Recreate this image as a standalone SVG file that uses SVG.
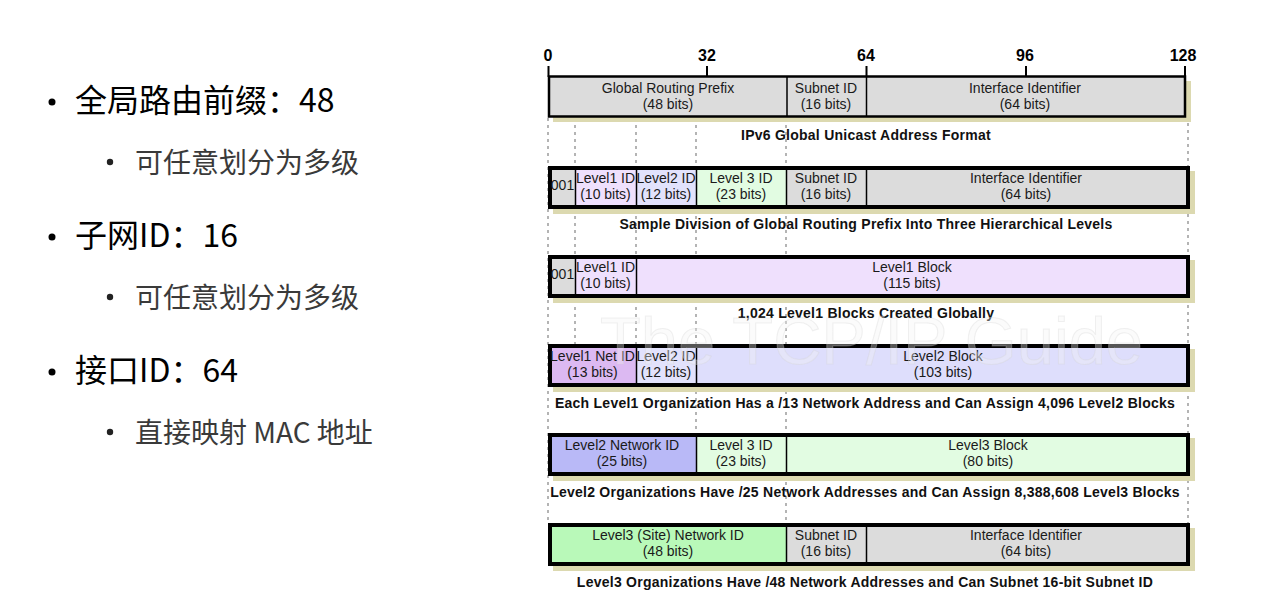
<svg xmlns="http://www.w3.org/2000/svg" width="1283" height="603" viewBox="0 0 1283 603">
<style>
.bg{fill:#ffffff}
.main{font-family:"Noto Sans CJK SC","Noto Sans",sans-serif;font-size:32px;fill:#000}
.sub{font-family:"Noto Sans CJK SC","Noto Sans",sans-serif;font-size:28px;fill:#3a3a3a}
.dot{fill:#000}
.sdot{fill:#222}
.tick{font-family:"Liberation Sans",Arial,sans-serif;font-size:16px;font-weight:bold;fill:#000;text-anchor:middle}
.t{font-family:"Liberation Sans",Arial,sans-serif;font-size:14px;fill:#1a1a1a;text-anchor:middle}
.cap{font-family:"Liberation Sans",Arial,sans-serif;font-size:14px;font-weight:bold;fill:#111;text-anchor:middle;letter-spacing:0.25px}
.shadow{fill:#dcd9b0}
.frame{fill:none;stroke:#000;stroke-width:4}
.frame1{fill:none;stroke:#000;stroke-width:2.5}
.div{stroke:#000;stroke-width:1.5}
.guide{stroke:#b4b4b4;stroke-width:2;stroke-dasharray:3 4;fill:none}
.gray{fill:#dcdcdc}
.l1{fill:#efe0fd}
.l2{fill:#e2e2fc}
.l3{fill:#e2fce2}
.l1n{fill:#dcb9f2}
.l2n{fill:#b9b9f7}
.l3n{fill:#b9f9b9}
.wm{font-family:"Liberation Sans",Arial,sans-serif;font-size:66px;fill:#f4f4f4;fill-opacity:0.35;stroke:#cfcfcf;stroke-opacity:0.3;stroke-width:1}
</style>
<rect class="bg" x="0" y="0" width="1283" height="603"/>

<g id="bullets">
  <circle class="dot" cx="52" cy="102" r="3.5"/>
  <text class="main" x="75" y="112">全局路由前缀：48</text>
  <circle class="sdot" cx="110" cy="162" r="3.2"/>
  <text class="sub" x="135" y="173">可任意划分为多级</text>
  <circle class="dot" cx="52" cy="237" r="3.5"/>
  <text class="main" x="75" y="247">子网ID：16</text>
  <circle class="sdot" cx="110" cy="297" r="3.2"/>
  <text class="sub" x="135" y="308">可任意划分为多级</text>
  <circle class="dot" cx="52" cy="372" r="3.5"/>
  <text class="main" x="75" y="382">接口ID：64</text>
  <circle class="sdot" cx="110" cy="432" r="3.2"/>
  <text class="sub" x="135" y="443">直接映射 MAC 地址</text>
</g>

<g id="connectors">
  <line class="guide" x1="548" y1="118" x2="548" y2="523"/>
  <line class="guide" x1="575" y1="118" x2="575" y2="345"/>
  <line class="guide" x1="636" y1="118" x2="636" y2="345"/>
  <line class="guide" x1="696" y1="118" x2="696" y2="434"/>
  <line class="guide" x1="786" y1="118" x2="786" y2="523"/>
  <line class="guide" x1="1188" y1="123" x2="1188" y2="523"/>
</g>

<g id="axis">
  <text class="tick" x="548" y="61">0</text>
  <text class="tick" x="707" y="61">32</text>
  <text class="tick" x="866" y="61">64</text>
  <text class="tick" x="1025" y="61">96</text>
  <text class="tick" x="1183" y="61">128</text>
  <line class="div" x1="548.5" y1="66" x2="548.5" y2="77" style="stroke-width:2"/>
  <line class="div" x1="707" y1="66" x2="707" y2="77" style="stroke-width:2"/>
  <line class="div" x1="866.5" y1="66" x2="866.5" y2="77" style="stroke-width:2"/>
  <line class="div" x1="1026" y1="66" x2="1026" y2="77" style="stroke-width:2"/>
  <line class="div" x1="1185" y1="66" x2="1185" y2="77" style="stroke-width:2"/>
</g>

<g id="row1">
  <rect class="shadow" x="553" y="81" width="638" height="41"/>
  <rect class="gray" x="549" y="77" width="636" height="39"/>
  <line class="div" x1="787" y1="77" x2="787" y2="116"/>
  <line class="div" x1="866.5" y1="77" x2="866.5" y2="116"/>
  <rect class="frame1" x="549" y="76.5" width="636" height="40"/>
  <text class="t" x="668" y="93">Global Routing Prefix</text>
  <text class="t" x="668" y="109">(48 bits)</text>
  <text class="t" x="826" y="93">Subnet ID</text>
  <text class="t" x="826" y="109">(16 bits)</text>
  <text class="t" x="1025" y="93">Interface Identifier</text>
  <text class="t" x="1025" y="109">(64 bits)</text>
  <text class="cap" x="866" y="140">IPv6 Global Unicast Address Format</text>
</g>

<g id="row2">
  <rect class="shadow" x="553" y="171" width="642" height="43"/>
  <rect class="gray" x="550" y="168" width="25" height="39"/>
  <rect class="l1" x="575" y="168" width="61" height="39"/>
  <rect class="l2" x="636" y="168" width="60" height="39"/>
  <rect class="l3" x="696" y="168" width="90" height="39"/>
  <rect class="gray" x="786" y="168" width="402" height="39"/>
  <line class="div" x1="575.5" y1="168" x2="575.5" y2="207"/>
  <line class="div" x1="636.5" y1="168" x2="636.5" y2="207"/>
  <line class="div" x1="696.5" y1="168" x2="696.5" y2="207"/>
  <line class="div" x1="786.5" y1="168" x2="786.5" y2="207"/>
  <line class="div" x1="866.5" y1="168" x2="866.5" y2="207"/>
  <rect class="frame" x="550" y="168" width="638" height="39"/>
  <text class="t" x="562.5" y="190">001</text>
  <text class="t" x="605.5" y="183">Level1 ID</text>
  <text class="t" x="605.5" y="199">(10 bits)</text>
  <text class="t" x="666" y="183">Level2 ID</text>
  <text class="t" x="666" y="199">(12 bits)</text>
  <text class="t" x="741" y="183">Level 3 ID</text>
  <text class="t" x="741" y="199">(23 bits)</text>
  <text class="t" x="826" y="183">Subnet ID</text>
  <text class="t" x="826" y="199">(16 bits)</text>
  <text class="t" x="1026" y="183">Interface Identifier</text>
  <text class="t" x="1026" y="199">(64 bits)</text>
  <text class="cap" x="866" y="229">Sample Division of Global Routing Prefix Into Three Hierarchical Levels</text>
</g>

<g id="row3">
  <rect class="shadow" x="553" y="260" width="642" height="43"/>
  <rect class="gray" x="550" y="257" width="25" height="39"/>
  <rect class="l1" x="575" y="257" width="613" height="39"/>
  <line class="div" x1="575.5" y1="257" x2="575.5" y2="296"/>
  <line class="div" x1="636.5" y1="257" x2="636.5" y2="296"/>
  <rect class="frame" x="550" y="257" width="638" height="39"/>
  <text class="t" x="562.5" y="279">001</text>
  <text class="t" x="605.5" y="272">Level1 ID</text>
  <text class="t" x="605.5" y="288">(10 bits)</text>
  <text class="t" x="912" y="272">Level1 Block</text>
  <text class="t" x="912" y="288">(115 bits)</text>
  <text class="cap" x="866" y="318">1,024 Level1 Blocks Created Globally</text>
</g>

<g id="row4">
  <rect class="shadow" x="553" y="349" width="642" height="43"/>
  <rect class="l1n" x="550" y="346" width="86" height="39"/>
  <rect class="l2" x="636" y="346" width="60" height="39"/>
  <rect class="l2" x="696" y="346" width="492" height="39" style="fill:#dedefc"/>
  <line class="div" x1="636.5" y1="346" x2="636.5" y2="385"/>
  <line class="div" x1="696.5" y1="346" x2="696.5" y2="385"/>
  <rect class="frame" x="550" y="346" width="638" height="39"/>
  <text class="t" x="592.5" y="361">Level1 Net ID</text>
  <text class="t" x="592.5" y="377">(13 bits)</text>
  <text class="t" x="666" y="361">Level2 ID</text>
  <text class="t" x="666" y="377">(12 bits)</text>
  <text class="t" x="943" y="361">Level2 Block</text>
  <text class="t" x="943" y="377">(103 bits)</text>
  <text class="cap" x="865" y="408">Each Level1 Organization Has a /13 Network Address and Can Assign 4,096 Level2 Blocks</text>
</g>

<g id="row5">
  <rect class="shadow" x="553" y="438" width="642" height="43"/>
  <rect class="l2n" x="550" y="435" width="146" height="39"/>
  <rect class="l3" x="696" y="435" width="492" height="39"/>
  <line class="div" x1="696.5" y1="435" x2="696.5" y2="474"/>
  <line class="div" x1="786.5" y1="435" x2="786.5" y2="474"/>
  <rect class="frame" x="550" y="435" width="638" height="39"/>
  <text class="t" x="622" y="450">Level2 Network ID</text>
  <text class="t" x="622" y="466">(25 bits)</text>
  <text class="t" x="741" y="450">Level 3 ID</text>
  <text class="t" x="741" y="466">(23 bits)</text>
  <text class="t" x="988" y="450">Level3 Block</text>
  <text class="t" x="988" y="466">(80 bits)</text>
  <text class="cap" x="865" y="497">Level2 Organizations Have /25 Network Addresses and Can Assign 8,388,608 Level3 Blocks</text>
</g>

<g id="row6">
  <rect class="shadow" x="553" y="528" width="642" height="43"/>
  <rect class="l3n" x="550" y="525" width="236" height="39"/>
  <rect class="gray" x="786" y="525" width="402" height="39"/>
  <line class="div" x1="786.5" y1="525" x2="786.5" y2="564"/>
  <line class="div" x1="866.5" y1="525" x2="866.5" y2="564"/>
  <rect class="frame" x="550" y="525" width="638" height="39"/>
  <text class="t" x="668" y="540">Level3 (Site) Network ID</text>
  <text class="t" x="668" y="556">(48 bits)</text>
  <text class="t" x="826" y="540">Subnet ID</text>
  <text class="t" x="826" y="556">(16 bits)</text>
  <text class="t" x="1026" y="540">Interface Identifier</text>
  <text class="t" x="1026" y="556">(64 bits)</text>
  <text class="cap" x="865" y="587">Level3 Organizations Have /48 Network Addresses and Can Subnet 16-bit Subnet ID</text>
</g>

<g id="watermark">
  <text class="wm" x="600" y="364" textLength="543" lengthAdjust="spacingAndGlyphs">The TCP/IP Guide</text>
</g>
</svg>
